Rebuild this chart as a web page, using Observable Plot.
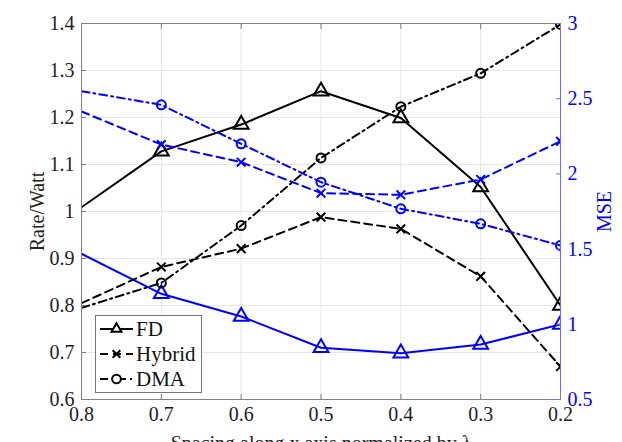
<!DOCTYPE html>
<html>
<head>
<meta charset="utf-8">
<script src="https://cdn.jsdelivr.net/npm/d3@7"></script>
<script src="https://cdn.jsdelivr.net/npm/@observablehq/plot@0.6"></script>
<style>
  html, body { margin: 0; padding: 0; background: #fff; }
  #chart { position: relative; width: 622px; height: 442px; overflow: hidden; }
  #chart svg, #chart svg text { font-family: "Liberation Serif", "DejaVu Serif", "Times New Roman", serif !important; }
  #legend { position: absolute; left: 95px; top: 315px; }
</style>
</head>
<body>
<div id="chart"></div>
<script>
const spacing = [0.8, 0.7, 0.6, 0.5, 0.4, 0.3, 0.2];
const fdRate = [1.009, 1.128, 1.185, 1.256, 1.199, 1.052, 0.800];
const hybridRate = [0.805, 0.882, 0.921, 0.988, 0.963, 0.862, 0.670];
const dmaRate = [0.795, 0.848, 0.970, 1.114, 1.223, 1.294, 1.398];
const fdMSE = [1.469, 1.203, 1.052, 0.844, 0.808, 0.866, 0.999];
const hybridMSE = [2.415, 2.195, 2.078, 1.872, 1.861, 1.963, 2.217];
const dmaMSE = [2.550, 2.459, 2.200, 1.945, 1.768, 1.668, 1.524];
const rateTicks = [0.6, 0.7, 0.8, 0.9, 1.0, 1.1, 1.2, 1.3, 1.4];
const mseTicks = [0.5, 1, 1.5, 2, 2.5, 3];
const xTicks = [0.8, 0.7, 0.6, 0.5, 0.4, 0.3, 0.2];
const seriesNames = ["FD", "Hybrid", "DMA"];

const rateDomain = [0.6, 1.4];
const mseDomain = [0.5, 3];
const toRate = m => rateDomain[0] + (m - mseDomain[0]) * (rateDomain[1] - rateDomain[0]) / (mseDomain[1] - mseDomain[0]);
const toMSE = r => mseDomain[0] + (r - rateDomain[0]) * (mseDomain[1] - mseDomain[0]) / (rateDomain[1] - rateDomain[0]);

const styles = {
  FD: {dash: null, symbol: "triangle", r: 5.5},
  Hybrid: {dash: "8,5", symbol: "times", r: 4},
  DMA: {dash: "8,4,2,4", symbol: "circle", r: 4.5}
};

const rows = [];
const rateSeries = {FD: fdRate, Hybrid: hybridRate, DMA: dmaRate};
const mseSeries = {FD: fdMSE, Hybrid: hybridMSE, DMA: dmaMSE};
for (const name of seriesNames) {
  spacing.forEach((x, i) => {
    rows.push({name, metric: "rate", x, y: rateSeries[name][i]});
    rows.push({name, metric: "mse", x, y: toRate(mseSeries[name][i])});
  });
}

const BLUE = "#0000ff";
const AXIS = "#808080";
const FONT = "'Liberation Serif', 'DejaVu Serif', serif";
const marks = [
  Plot.gridX(xTicks, {stroke: "#e5e5e5", strokeOpacity: 1}),
  Plot.gridY(rateTicks, {stroke: "#e5e5e5", strokeOpacity: 1})
];
for (const name of seriesNames) {
  for (const metric of ["rate", "mse"]) {
    const data = rows.filter(d => d.name === name && d.metric === metric);
    const color = metric === "rate" ? "black" : BLUE;
    marks.push(Plot.line(data, {
      x: "x", y: "y", stroke: color, strokeWidth: 2,
      strokeDasharray: styles[name].dash, clip: "frame"
    }));
    marks.push(Plot.dot(data.filter(d => d.x < 0.75), {
      x: "x", y: "y", stroke: color, strokeWidth: 2, fill: "none",
      symbol: () => styles[name].symbol, r: styles[name].r, clip: "frame"
    }));
  }
}
marks.push(
  Plot.frame({anchor: "top", stroke: AXIS, strokeOpacity: 1}),
  Plot.frame({anchor: "left", stroke: AXIS, strokeOpacity: 1}),
  Plot.frame({anchor: "bottom", stroke: AXIS, strokeOpacity: 1}),
  Plot.frame({anchor: "right", stroke: "#6b6bff", strokeOpacity: 1}),
  Plot.axisX(xTicks, {
    anchor: "top", tickSize: -5, stroke: AXIS, tickFormat: () => "", label: null
  }),
  Plot.axisX(xTicks, {
    anchor: "bottom", tickSize: -5, stroke: AXIS, tickPadding: 12,
    tickFormat: d => String(d), fontSize: 20, fill: "#222", fontFamily: FONT,
    label: "Spacing along x axis normalized by λ", labelAnchor: "center",
    labelArrow: "none", labelOffset: 50
  }),
  Plot.axisY(rateTicks, {
    anchor: "left", tickSize: -5, stroke: AXIS, tickPadding: 12,
    tickFormat: d => String(+d.toFixed(1)), fontSize: 20, fill: "#222", fontFamily: FONT,
    label: "Rate/Watt", labelAnchor: "center", labelArrow: "none", labelOffset: 52
  }),
  Plot.axisY(mseTicks.map(toRate), {
    anchor: "right", tickSize: -5, stroke: "#6b6bff", tickPadding: 12,
    tickFormat: d => String(+toMSE(d).toFixed(1)), fontSize: 20, fill: BLUE, fontFamily: FONT,
    label: "MSE", labelAnchor: "center", labelArrow: "none", labelOffset: 50
  })
);

const chart = Plot.plot({
  width: 622,
  height: 442,
  marginLeft: 81,
  marginRight: 62,
  marginTop: 23,
  marginBottom: 43,
  style: {fontSize: "20px", fontFamily: FONT, background: "white"},
  x: {domain: [0.8, 0.2], type: "linear"},
  y: {domain: rateDomain, type: "linear"},
  marks
});
document.getElementById("chart").appendChild(chart);

// legend overlay (inside axes, lower left)
const lg = d3.select("#chart").append("svg")
  .attr("id", "legend").attr("width", 108).attr("height", 79);
lg.append("rect").attr("x", 0.5).attr("y", 0.5).attr("width", 106).attr("height", 77)
  .attr("fill", "white").attr("stroke", "#777");
const symbolGen = {
  FD: d3.symbol(d3.symbolTriangle2, 70),
  Hybrid: d3.symbol(d3.symbolTimes, 40),
  DMA: d3.symbol(d3.symbolCircle, 60)
};
seriesNames.forEach((name, i) => {
  const cy = 14 + i * 25;
  const g = lg.append("g");
  g.append("line").attr("x1", 5).attr("x2", 38).attr("y1", cy).attr("y2", cy)
    .attr("stroke", "black").attr("stroke-width", 2)
    .attr("stroke-dasharray", styles[name].dash);
  g.append("path").attr("d", symbolGen[name]()).attr("transform", `translate(21.5,${cy})`)
    .attr("fill", name === "Hybrid" ? "none" : "white").attr("stroke", "black").attr("stroke-width", 2);
  g.append("text").attr("x", 41).attr("y", cy).attr("dy", "0.35em")
    .attr("font-size", 21).attr("fill", "#111").text(name);
});
</script>
</body>
</html>
